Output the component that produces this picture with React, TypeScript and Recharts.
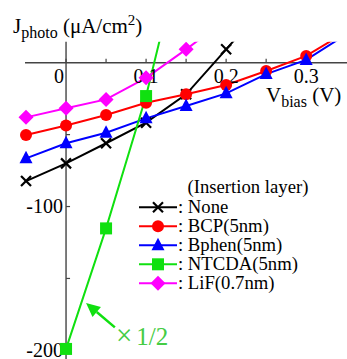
import React from "react";
import { LineChart, Line, XAxis, YAxis, ReferenceLine, ReferenceDot } from "recharts";

// bias voltage (V) and photocurrent (uA/cm2)
const voltages = [-0.05, 0, 0.05, 0.1, 0.15, 0.2, 0.25, 0.3, 0.35];
const jNone = [-82.3, -70, -56, -41.7, -22, 9.3, 40.6, null, null];
const jBCP = [-50.3, -43.7, -36.4, -27.8, -22, -15.5, -5.8, 4.7, 21.5];
const jBphen = [-66.5, -56, -48.7, -38.7, -30.1, -21.3, -7.9, 1.9, 19.7];
const jNTCDA = [null, -199, -115.2, -23.2, 91, null, null, null, null]; // plotted x1/2
const jLiF = [-38, -31.7, -25.5, -10.5, 9.3, 30, null, null, null];

const xTicks = [0, 0.05, 0.1, 0.15, 0.2, 0.25, 0.3];
const xTickLabels = ["0", "", "0.1", "", "0.2", "", "0.3"];
const yTicks = [-50, -100, -150, -200];
const yTickLabels = ["", "-100", "", "-200"];

const X_MIN = -0.0825;
const X_MAX = 0.351;
const Y_MIN = -206;
const Y_MAX = 14.6;

const FONT = "Liberation Serif";
const AXIS = "#444";

type Marker = "cross" | "circle" | "triangle" | "square" | "diamond";

const series: { key: string; name: string; color: string; marker: Marker; values: (number | null)[] }[] = [
  { key: "none", name: ": None", color: "#000000", marker: "cross", values: jNone },
  { key: "bcp", name: ": BCP(5nm)", color: "#ff0000", marker: "circle", values: jBCP },
  { key: "bphen", name: ": Bphen(5nm)", color: "#0000ff", marker: "triangle", values: jBphen },
  { key: "ntcda", name: ": NTCDA(5nm)", color: "#10e010", marker: "square", values: jNTCDA },
  { key: "lif", name: ": LiF(0.7nm)", color: "#ff00ff", marker: "diamond", values: jLiF },
];

const data = voltages.map((v, i) => {
  const row: Record<string, number | null> = { v };
  series.forEach((s) => (row[s.key] = s.values[i]));
  return row;
});

const drawMarker = (m: Marker, cx: number, cy: number, color: string, key?: string) => {
  switch (m) {
    case "cross":
      return (
        <g key={key} stroke={color} strokeWidth={2.2}>
          <line x1={cx - 5} y1={cy - 5} x2={cx + 5} y2={cy + 5} />
          <line x1={cx - 5} y1={cy + 5} x2={cx + 5} y2={cy - 5} />
        </g>
      );
    case "circle":
      return <circle key={key} cx={cx} cy={cy} r={6} fill={color} />;
    case "triangle":
      return <polygon key={key} points={`${cx},${cy - 7.5} ${cx - 6.5},${cy + 5} ${cx + 6.5},${cy + 5}`} fill={color} />;
    case "square":
      return <rect key={key} x={cx - 6} y={cy - 6} width={12} height={12} fill={color} />;
    default:
      return <polygon key={key} points={`${cx},${cy - 7.5} ${cx + 7.5},${cy} ${cx},${cy + 7.5} ${cx - 7.5},${cy}`} fill={color} />;
  }
};

const makeDot = (m: Marker, color: string, dataKey: string) => (props: any) => {
  const { cx, cy, payload, index } = props;
  const val = payload[dataKey];
  const k = `${dataKey}-${index}`;
  if (val == null || val > Y_MAX || payload.v > X_MAX || cx == null || cy == null) return <g key={k} />;
  return drawMarker(m, cx, cy, color, k);
};

const Arrow = (props: any) => {
  const { x1, y1, x2, y2 } = props;
  const ang = Math.atan2(y2 - y1, x2 - x1);
  const len = 14;
  const w = 6.5;
  const bx = x2 - len * Math.cos(ang);
  const by = y2 - len * Math.sin(ang);
  const px = -Math.sin(ang) * w;
  const py = Math.cos(ang) * w;
  return (
    <g>
      <line x1={x1} y1={y1} x2={bx} y2={by} stroke="#10e010" strokeWidth={2.5} />
      <polygon points={`${x2},${y2} ${bx + px},${by + py} ${bx - px},${by - py}`} fill="#10e010" />
    </g>
  );
};

const txt = { fontFamily: FONT };

export default function App() {
  return (
    <div style={{ position: "absolute", left: 0, top: 0, width: 347, height: 359, background: "#fff", fontFamily: FONT }}>
      <LineChart width={347} height={359} data={data} margin={{ top: 41.7, right: 0, left: 0, bottom: 0 }}>
        <XAxis type="number" dataKey="v" domain={[X_MIN, X_MAX]} allowDataOverflow hide />
        <YAxis type="number" domain={[Y_MIN, Y_MAX]} allowDataOverflow hide />

        {/* axes crossing at the origin */}
        <ReferenceLine segment={[{ x: -0.05125, y: 0 }, { x: X_MAX, y: 0 }]} stroke={AXIS} strokeWidth={1.4} />
        <ReferenceLine segment={[{ x: 0, y: Y_MIN }, { x: 0, y: Y_MAX }]} stroke={AXIS} strokeWidth={1.4} />

        {xTicks.map((t, i) => (
          <ReferenceDot
            key={`xt${i}`}
            x={t}
            y={0}
            r={0}
            shape={(p: any) => (
              <g>
                <line x1={p.cx} y1={p.cy} x2={p.cx} y2={p.cy - 4} stroke={AXIS} strokeWidth={1.2} />
                {xTickLabels[i] && (
                  <text x={p.cx + (t === 0 ? -7 : 0)} y={p.cy + 20} textAnchor="middle" fontSize={20} style={txt} fill="#000">
                    {xTickLabels[i]}
                  </text>
                )}
              </g>
            )}
          />
        ))}
        {yTicks.map((t, i) => (
          <ReferenceDot
            key={`yt${i}`}
            x={0}
            y={t}
            r={0}
            shape={(p: any) => (
              <g>
                <line x1={p.cx} y1={p.cy} x2={p.cx + 4} y2={p.cy} stroke={AXIS} strokeWidth={1.2} />
                {yTickLabels[i] && (
                  <text x={p.cx - 3} y={p.cy + 6.5} textAnchor="end" fontSize={20} style={txt} fill="#000">
                    {yTickLabels[i]}
                  </text>
                )}
              </g>
            )}
          />
        ))}

        <ReferenceLine segment={[{ x: 0.061, y: -184 }, { x: 0.025, y: -167 }]} shape={Arrow} />

        {series.map((s) => (
          <Line
            key={s.key}
            type="linear"
            dataKey={s.key}
            name={s.name}
            stroke={s.color}
            strokeWidth={2}
            dot={makeDot(s.marker, s.color, s.key)}
            activeDot={false}
            isAnimationActive={false}
          />
        ))}
      </LineChart>

      <svg width={347} height={359} style={{ position: "absolute", left: 0, top: 0, pointerEvents: "none", fontFamily: FONT }}>
        <text x={13} y={33.3} fontSize={21} fill="#000" style={txt}>
          J<tspan fontSize={16} dy={5}>photo</tspan>
          <tspan dy={-5}> (μA/cm</tspan>
          <tspan fontSize={15} dy={-8}>2</tspan>
          <tspan dy={8}>)</tspan>
        </text>
        <text x={266} y={101.7} fontSize={21} fill="#000" style={txt}>
          V<tspan fontSize={16} dy={5}>bias</tspan>
          <tspan dy={-5}> (V)</tspan>
        </text>

        <text x={187.5} y={193} fontSize={18.7} fill="#000" style={txt}>(Insertion layer)</text>
        {series.map((s, i) => {
          const y = 207.3 + i * 19;
          return (
            <g key={s.key}>
              <line x1={139} y1={y} x2={177} y2={y} stroke={s.color} strokeWidth={2} />
              {drawMarker(s.marker, 158, y, s.color)}
              <text x={178} y={y + 6} fontSize={18.7} fill="#000" style={txt}>{s.name}</text>
            </g>
          );
        })}

        <text x={116} y={345} fill="#44cc44" style={txt}>
          <tspan fontSize={29}>×</tspan>
          <tspan fontSize={25} dx={4}>1/2</tspan>
        </text>
      </svg>
    </div>
  );
}
